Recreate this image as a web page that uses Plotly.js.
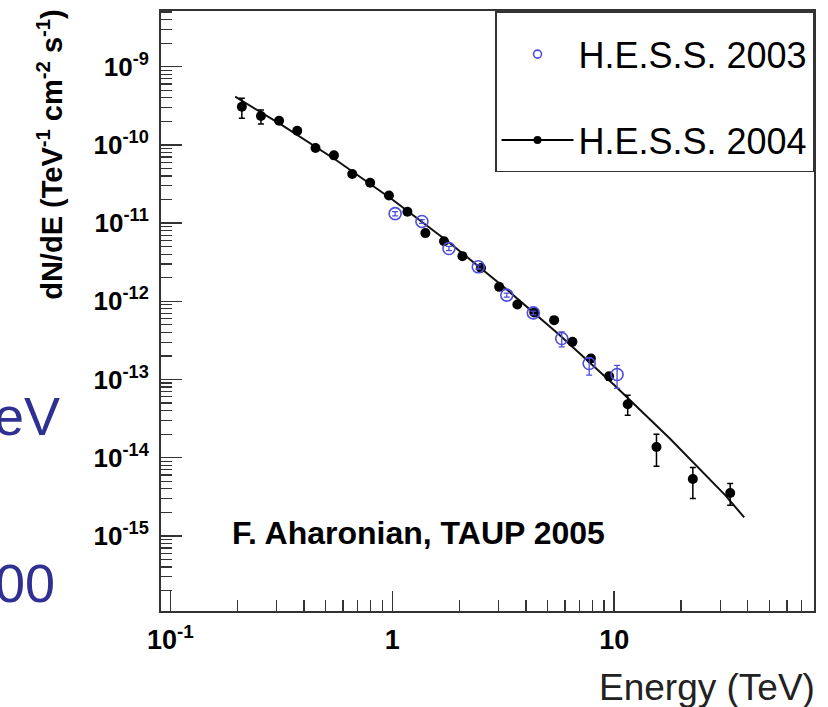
<!DOCTYPE html>
<html>
<head>
<meta charset="utf-8">
<script src="https://cdn.plot.ly/plotly-3.0.1.min.js"></script>
<style>html,body{margin:0;padding:0;background:#fff;}#chart{width:828px;height:707px;}</style>
</head>
<body>
<div id="chart"></div>
<script>
// ---- data ----
// H.E.S.S. 2004 (black filled points)
var e2004 = [0.210,0.256,0.309,0.373,0.451,0.546,0.660,0.795,0.966,1.17,1.41,1.71,2.07,2.51,3.03,3.66,4.36,5.36,6.48,7.85,9.48,11.5,15.5,22.6,33.3];
var f2004 = [3.07e-10,2.34e-10,2.04e-10,1.52e-10,9.12e-11,7.35e-11,4.24e-11,3.28e-11,2.25e-11,1.40e-11,7.45e-12,5.85e-12,3.78e-12,2.66e-12,1.53e-12,9.12e-13,7.20e-13,5.74e-13,3.03e-13,1.86e-13,1.10e-13,4.83e-14,1.37e-14,5.35e-15,3.54e-15];
var f2004ErrUp = [0.87e-10,0.45e-10,0.12e-10,0.09e-10,0.5e-11,0.4e-11,0.25e-11,0.2e-11,0.13e-11,0.08e-11,0.5e-12,0.35e-12,0.25e-12,0.17e-12,0.1e-12,0.6e-13,0.5e-13,0.4e-13,0.25e-13,0.18e-13,0.12e-13,1.46e-14,0.63e-14,2.13e-15,1.13e-15];
var f2004ErrDn = [0.88e-10,0.49e-10,0.12e-10,0.09e-10,0.5e-11,0.4e-11,0.25e-11,0.2e-11,0.13e-11,0.08e-11,0.5e-12,0.35e-12,0.25e-12,0.17e-12,0.1e-12,0.6e-13,0.5e-13,0.4e-13,0.25e-13,0.18e-13,0.12e-13,1.34e-14,0.59e-14,2.35e-15,1.08e-15];

// H.E.S.S. 2003 (blue open circles)
var e2003 = [1.03,1.36,1.80,2.44,3.28,4.32,5.80,7.71,10.3];
var f2003 = [1.32e-11,1.05e-11,4.74e-12,2.76e-12,1.20e-12,7.11e-13,3.35e-13,1.60e-13,1.16e-13];
var f2003ErrUp = [0.08e-11,0.06e-11,0.3e-12,0.17e-12,0.07e-12,0.4e-13,0.72e-13,0.28e-13,0.36e-13];
var f2003ErrDn = [0.08e-11,0.06e-11,0.3e-12,0.17e-12,0.07e-12,0.4e-13,0.74e-13,0.46e-13,0.39e-13];

// fitted spectrum curve
var fitE = [0.196,0.316,0.562,1.0,1.78,3.16,5.62,10.0,17.8,31.6,38.5];
var fitF = [4.13e-10,1.82e-10,6.31e-11,2.0e-11,5.82e-12,1.55e-12,3.80e-13,8.53e-14,1.76e-14,3.32e-15,1.73e-15];

// axis tick labels
var xTickVals = [0.1, 1, 10];
var xTickText = ['10<sup>-1</sup>', '1', '10'];
var yTickVals = [1e-15,1e-14,1e-13,1e-12,1e-11,1e-10,1e-9];
var yTickText = ['10<sup>-15</sup>','10<sup>-14</sup>','10<sup>-13</sup>','10<sup>-12</sup>','10<sup>-11</sup>','10<sup>-10</sup>','10<sup>-9</sup>'];

// ---- build minor tick positions (2..9 per decade) ----
function minorTicks(p0, p1) {
  var out = [];
  for (var p = p0; p <= p1; p++) {
    for (var m = 2; m <= 9; m++) out.push(m * Math.pow(10, p));
  }
  return out;
}

var FONT = 'Liberation Sans, Arial, Helvetica, sans-serif';
var AX = '#333333';
var BLUE = '#4d4dd9';

var traces = [
  { x: fitE, y: fitF, mode: 'lines', line: {color: '#111', width: 2}, showlegend: false, hoverinfo: 'skip' },
  { x: e2004, y: f2004, mode: 'markers', showlegend: false,
    marker: {color: '#000', size: 10, symbol: 'circle'},
    error_y: {type: 'data', symmetric: false, array: f2004ErrUp, arrayminus: f2004ErrDn, color: '#000', thickness: 1.5, width: 3} },
  { x: e2003, y: f2003, mode: 'markers', showlegend: false,
    marker: {color: BLUE, size: 12, symbol: 'circle-open', line: {color: BLUE, width: 1.6}},
    error_y: {type: 'data', symmetric: false, array: f2003ErrUp, arrayminus: f2003ErrDn, color: BLUE, thickness: 1.3, width: 3} },
  // legend entries
  { x: [null], y: [null], mode: 'markers', name: 'H.E.S.S. 2003', legendgroup: 'a',
    marker: {symbol: 'circle-open', size: 8, color: BLUE, line: {color: BLUE, width: 1.6}} },
  { x: [null], y: [null], mode: 'lines+markers', name: 'H.E.S.S. 2004', legendgroup: 'b',
    line: {color: '#000', width: 2}, marker: {color: '#000', size: 8} }
];

var layout = {
  width: 828, height: 707,
  margin: {l: 161, r: 14, t: 11, b: 96, pad: 0},
  paper_bgcolor: '#fff', plot_bgcolor: '#fff',
  font: {family: FONT, color: '#000'},
  showlegend: true,
  legend: {
    x: 1, xanchor: 'right', y: 1, yanchor: 'top',
    bgcolor: '#fff', bordercolor: AX, borderwidth: 1.5,
    font: {family: FONT, size: 36, color: '#000'},
    title: {text: ' ', font: {size: 9}},
    traceorder: 'grouped', tracegroupgap: 36,
    itemwidth: 72
  },
  xaxis: {
    type: 'log', range: [-1.042, 1.9],
    tickmode: 'array', tickvals: xTickVals, ticktext: xTickText,
    ticks: 'inside', ticklen: 20, tickwidth: 1.5, tickcolor: AX,
    minor: {tickmode: 'array', tickvals: minorTicks(-1, 1), ticks: 'inside', ticklen: 11, tickwidth: 1.2, tickcolor: AX, showgrid: false},
    showline: true, linecolor: AX, linewidth: 2, mirror: true,
    showgrid: false, zeroline: false,
    tickfont: {family: FONT, size: 27, color: '#000', weight: 'bold'},
    ticklabelstandoff: 4
  },
  yaxis: {
    type: 'log', range: [-15.96, -8.288],
    tickmode: 'array', tickvals: yTickVals, ticktext: yTickText,
    ticks: 'inside', ticklen: 21, tickwidth: 1.5, tickcolor: AX,
    minor: {tickmode: 'array', tickvals: minorTicks(-16, -9), ticks: 'inside', ticklen: 11, tickwidth: 1.2, tickcolor: AX, showgrid: false},
    showline: true, linecolor: AX, linewidth: 2, mirror: true,
    showgrid: false, zeroline: false,
    tickfont: {family: FONT, size: 26, color: '#000', weight: 'bold'},
    ticklabelstandoff: 5
  },
  annotations: [
    { text: 'dN/dE (TeV<sup>-1</sup> cm<sup>-2</sup> s<sup>-1</sup>)', textangle: -90,
      xref: 'paper', yref: 'paper', x: -0.170, y: 0.762, xanchor: 'center', yanchor: 'middle',
      showarrow: false, font: {family: FONT, size: 29, color: '#000', weight: 'bold'} },
    { text: 'Energy (TeV)', xref: 'paper', yref: 'paper', x: 1.0046, y: -0.128,
      xanchor: 'right', yanchor: 'middle', showarrow: false,
      font: {family: FONT, size: 37, color: '#222'} },
    { text: 'F. Aharonian, TAUP 2005', xref: 'paper', yref: 'paper', x: 0.1057, y: 0.13,
      xanchor: 'left', yanchor: 'middle', showarrow: false,
      font: {family: FONT, size: 32, color: '#000', weight: 'bold'} },
    { text: 'eV', xref: 'paper', yref: 'paper', x: -0.1516, y: 0.325,
      xanchor: 'right', yanchor: 'middle', showarrow: false,
      font: {family: FONT, size: 54, color: '#2e3192'} },
    { text: '00', xref: 'paper', yref: 'paper', x: -0.159, y: 0.0467,
      xanchor: 'right', yanchor: 'middle', showarrow: false,
      font: {family: FONT, size: 54, color: '#2e3192'} }
  ]
};

Plotly.newPlot('chart', traces, layout, {staticPlot: true, displayModeBar: false});
</script>
</body>
</html>
